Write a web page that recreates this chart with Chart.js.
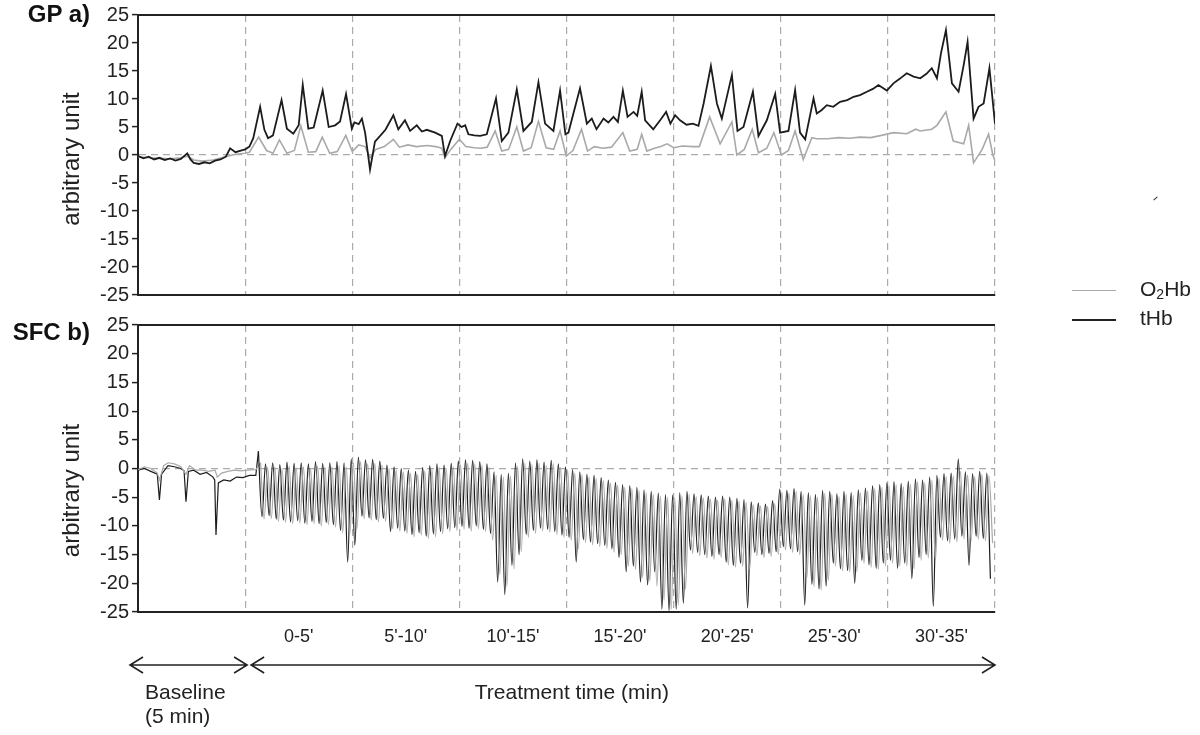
<!DOCTYPE html>
<html>
<head>
<meta charset="utf-8">
<script src="https://cdn.jsdelivr.net/npm/chart.js@4.4.0/dist/chart.umd.min.js"></script>
<style>
  html, body { margin: 0; padding: 0; background: #fff; }
  body { width: 1200px; height: 735px; position: relative; overflow: hidden; font-family: "Liberation Sans", Arial, sans-serif; color: #222; }
  canvas { position: absolute; left: 0; }
  #c1 { top: 0; }
  #c2 { top: 310px; }
  .plab { position: absolute; right: 1110px; font-weight: bold; font-size: 24px; color: #111; white-space: nowrap; }
  .legline { position: absolute; left: 1072px; width: 44px; height: 0; }
  .legtxt { position: absolute; left: 1140px; font-size: 21px; color: #222; white-space: nowrap; line-height: 21px; }
  .legtxt sub { font-size: 14px; vertical-align: -3px; line-height: 0; }
  .speck { position: absolute; left: 1153px; top: 198px; width: 5px; height: 0; border-top: 1.5px solid #333; transform: rotate(-40deg); }
</style>
</head>
<body>
<canvas id="c1" width="1200" height="310"></canvas>
<canvas id="c2" width="1200" height="425"></canvas>
<div class="plab" style="top:0px;">GP a)</div>
<div class="plab" style="top:318px;">SFC b)</div>
<div class="legline" style="top:290px; border-top:1.5px solid #aaa;"></div>
<div class="legtxt" style="top:278px;">O<sub>2</sub>Hb</div>
<div class="legline" style="top:319px; border-top:2px solid #222;"></div>
<div class="legtxt" style="top:307px;">tHb</div>
<div class="speck"></div>
<script>
// ---------- labels ----------
const periodLabels = ["0-5'", "5'-10'", "10'-15'", "15'-20'", "20'-25'", "25'-30'", "30'-35'"];
const seriesNames = ["tHb", "O\u2082Hb"];

// ---------- panel a) GP : time (min, 0-5 baseline, 5-40 treatment) and values ----------
const gpTHbTime = [0,0.25,0.5,0.75,1.0,1.25,1.5,1.75,2.0,2.3,2.45,2.6,2.85,3.1,3.35,3.6,3.85,4.1,4.3,4.55,4.8,5.0,
  5.2,5.38,5.7,5.9,6.07,6.3,6.7,6.95,7.25,7.5,7.69,7.95,8.2,8.62,8.9,9.2,9.43,9.71,9.98,10.1,10.3,10.45,10.6,10.83,11.06,11.3,11.55,11.92,12.15,12.46,12.7,13.01,13.25,13.48,13.87,14.18,14.33,14.57,14.91,15.1,15.27,15.42,15.7,15.97,16.28,16.71,16.98,17.29,17.68,17.99,18.38,18.69,19.0,19.39,19.7,19.95,20.09,20.63,20.95,21.18,21.4,21.73,21.95,22.19,22.4,22.63,22.85,23.13,23.3,23.51,23.67,24.05,24.37,24.65,24.85,25.07,25.3,25.6,25.9,26.16,26.4,26.74,27.02,27.25,27.72,27.98,28.26,28.7,28.96,29.35,29.74,29.97,30.36,30.67,30.9,31.14,31.53,31.68,31.9,32.15,32.45,32.77,33.1,33.4,33.7,34.02,34.3,34.56,34.95,35.26,35.55,35.88,36.2,36.51,36.8,37.05,37.29,37.48,37.71,37.99,38.3,38.54,38.72,39.0,39.23,39.47,39.74,40.0];
const gpTHb = [-0.2,-0.6,-0.3,-0.8,-0.5,-0.9,-0.6,-1.0,-0.7,0.3,-0.8,-1.4,-1.6,-1.3,-1.5,-1.0,-0.8,-0.3,1.2,0.5,0.8,1.0,
  1.5,3.0,8.6,4.5,3.0,3.5,9.8,4.7,3.8,5.3,12.5,4.7,4.9,11.5,5.0,5.3,6.0,10.9,4.7,5.8,5.5,6.5,4.0,-2.6,2.4,3.4,4.5,7.1,4.6,6.2,4.3,5.3,4.2,4.5,4.0,3.4,-0.2,2.5,5.6,5.0,5.3,3.7,3.5,3.4,3.7,10.1,2.5,4.0,11.7,4.3,5.9,13.0,5.6,4.3,11.5,3.7,4.0,11.9,5.6,6.5,4.6,6.5,5.8,6.8,5.9,11.5,6.8,7.7,7.0,11.3,6.2,4.6,6.2,7.7,5.6,7.1,6.2,5.4,5.6,5.2,9.2,15.9,9.2,6.5,14.3,4.3,5.0,11.3,3.4,6.2,10.9,4.0,4.3,11.6,4.0,2.8,10.1,7.4,8.0,8.9,8.6,9.5,9.8,10.4,10.7,11.3,11.8,12.5,11.5,12.8,13.6,14.6,14.0,13.7,14.5,15.5,13.7,18.2,22.3,12.8,11.3,16.1,20.2,6.5,8.6,9.2,15.5,5.6];

const gpO2Time = [0,0.5,1.0,1.5,2.0,2.3,2.6,3.0,3.5,4.0,4.5,5.0,
  5.2,5.63,6.0,6.3,6.6,6.95,7.3,7.6,7.95,8.3,8.6,8.95,9.3,9.7,10.0,10.3,10.6,10.83,11.1,11.5,11.92,12.2,12.6,13.0,13.5,13.9,14.18,14.33,14.6,15.0,15.3,15.7,16.0,16.3,16.67,16.98,17.3,17.68,17.99,18.35,18.69,19.05,19.4,19.7,19.99,20.3,20.7,20.98,21.3,21.7,22.1,22.63,22.95,23.3,23.51,23.75,24.1,24.4,24.7,25.0,25.4,25.9,26.2,26.68,27.17,27.72,27.95,28.3,28.67,28.96,29.35,29.68,30.03,30.36,30.67,31.05,31.45,31.68,32.2,32.7,33.2,33.7,34.2,34.7,35.26,35.88,36.3,36.51,37.05,37.29,37.71,38.05,38.54,38.77,39.0,39.4,39.7,39.9,40.0];
const gpO2Hb = [-0.3,-0.5,-0.6,-0.7,-0.5,-0.2,-0.9,-1.1,-0.9,-0.4,0.1,0.3,
  0.5,3.2,0.8,0.3,2.7,0.3,0.8,5.2,0.5,0.6,3.2,0.3,0.6,3.5,0.6,1.8,1.5,-0.5,1.0,1.5,2.8,1.4,1.8,1.5,1.7,1.5,1.2,-0.5,1.0,2.8,1.5,1.3,1.2,1.4,4.3,0.7,1.0,5.0,0.7,1.3,6.0,1.3,1.0,4.3,-0.2,0.8,4.6,0.7,1.5,1.2,1.4,4.0,0.7,1.0,3.7,0.7,1.2,1.5,2.0,1.3,1.6,1.5,1.5,6.8,2.0,5.9,0.0,1.0,4.6,0.4,1.2,4.0,0.0,0.8,4.3,-0.8,3.1,2.9,2.9,3.1,3.0,3.2,3.1,3.5,4.0,3.8,4.6,4.3,4.6,5.3,7.7,2.5,2.0,5.3,-1.4,1.0,3.7,0.0,-1.0];

// ---------- panel b) SFC : baseline samples (up to the first treatment pulse) ----------
const sfcBaseTHbTime = [0,0.3,0.6,0.9,1.0,1.1,1.4,1.7,2.0,2.15,2.24,2.35,2.6,2.9,3.2,3.5,3.58,3.64,3.75,4.0,4.3,4.6,4.9,5.2,5.5,5.62];
const sfcBaseTHb = [-0.3,0.0,-0.5,-1.0,-5.5,-1.0,0.5,0.3,0.0,-0.4,-5.8,-0.5,-0.3,-1.0,-0.7,-1.5,-2.0,-11.6,-2.5,-2.0,-2.2,-1.5,-1.6,-1.2,-1.2,3.0];
const sfcBaseO2Time = [0,0.3,0.6,0.9,1.0,1.2,1.4,1.7,2.0,2.24,2.4,2.7,3.0,3.3,3.6,3.7,3.9,4.2,4.5,4.8,5.1,5.5,5.72];
const sfcBaseO2Hb = [-0.2,0.3,0.0,-0.8,-2.0,0.5,1.0,0.8,0.3,-1.0,0.5,-0.3,-0.3,-0.5,-0.3,-1.5,-0.8,-0.5,-0.3,-0.4,-0.3,-0.2,1.0];

// ---------- panel b) SFC : treatment pulses, one peak and one trough per pulse ----------
const sfcCycleStart = 5.62;   // min, first treatment pulse
const sfcCycleLen = 1 / 3;    // min per pulse (about 3 pulses per minute)
const sfcO2Lag = 0.1;         // min, O2Hb stroke drawn just after tHb stroke
const sfcTHbTop = [3.0,
  0.8,1.0,0.7,1.1,0.9,1.0,0.8,1.2,0.9,1.0,
  1.2,1.0,1.7,2.0,1.5,1.6,1.3,
  0.6,0.3,0.0,-0.3,-0.5,
  0.2,0.5,0.8,0.6,0.9,1.3,1.5,1.4,1.2,0.8,
  -0.6,-1.0,-0.8,
  1.0,1.7,1.3,1.5,1.1,1.4,0.8,
  0.3,-0.2,-0.6,-1.0,-1.2,
  -1.6,-2.0,-2.4,-2.8,
  -3.0,-3.3,-3.7,-4.0,-4.3,-4.5,-4.6,
  -4.2,-4.0,-4.4,-4.6,-4.8,-5.0,
  -4.8,-5.0,-5.2,-5.4,
  -5.8,-6.0,-6.2,-5.6,
  -3.6,-3.8,-3.5,-4.0,
  -4.2,-4.5,-3.8,-4.0,-4.4,-4.0,-4.2,-3.7,-3.4,
  -3.0,-2.8,-2.5,-2.3,
  -2.6,-2.2,-1.8,-2.0,-1.5,
  -1.2,-0.9,-0.8,
  1.7,
  -0.6,-0.9,-0.5,-0.8];
const sfcTHbBottom = [-8.4,-8.2,
  -8.8,-9.0,-9.3,-9.1,-9.5,-9.2,-9.6,-9.4,-9.8,
  -10.8,-16.3,-13.4,
  -8.3,-8.6,-8.9,-8.7,
  -11.0,
  -10.4,-10.9,-11.5,-11.2,
  -11.8,-11.4,-11.0,
  -10.5,-10.3,-10.1,-10.4,-10.0,-10.6,-11.3,
  -19.8,-22.0,-16.9,-15.0,
  -11.5,-10.8,-10.4,-10.6,-11.0,-11.6,-12.0,
  -16.3,
  -12.4,-12.8,-13.1,-13.4,
  -14.0,-15.5,-18.0,-17.0,-19.8,-20.3,-18.0,
  -24.5,-24.8,-24.5,-23.5,
  -14.2,-14.6,-15.0,-15.3,-15.0,
  -16.3,-16.9,-16.5,
  -24.3,
  -14.6,-15.0,-14.8,-14.5,
  -13.6,-14.0,-14.5,
  -23.8,
  -20.2,-21.0,-20.5,
  -16.5,-17.5,-17.8,
  -20.0,
  -16.0,-16.8,-17.4,-16.5,
  -16.0,-17.4,-16.5,-19.2,-15.5,-15.0,-24.0,
  -12.0,-12.6,-12.3,-11.8,
  -16.9,
  -11.8,-12.2,
  -19.2];
const sfcO2Top = [1.0,
  0.2,0.3,0.0,0.4,0.1,0.3,0.0,0.4,0.2,0.3,
  0.5,0.3,1.0,1.2,0.8,0.9,0.6,
  0.0,-0.3,-0.6,-0.8,-1.0,
  -0.4,-0.1,0.2,0.0,0.3,0.7,0.9,0.8,0.6,0.2,
  -1.2,-1.5,-1.3,
  0.4,1.0,0.7,0.9,0.5,0.8,0.2,
  -0.3,-0.8,-1.1,-1.5,-1.7,
  -2.1,-2.5,-2.9,-3.3,
  -3.5,-3.8,-4.2,-4.5,-4.8,-5.0,-5.1,
  -4.7,-4.5,-4.9,-5.1,-5.3,-5.5,
  -5.3,-5.5,-5.7,-5.9,
  -6.3,-6.5,-6.6,-6.1,
  -4.1,-4.3,-4.0,-4.5,
  -4.7,-5.0,-4.3,-4.5,-4.9,-4.5,-4.7,-4.2,-3.9,
  -3.5,-3.3,-3.0,-2.8,
  -3.1,-2.7,-2.3,-2.5,-2.0,
  -1.7,-1.4,-1.3,
  -0.5,
  -1.1,-1.4,-1.0,-1.3];
const sfcO2Bottom = [-8.8,-8.7,
  -9.2,-9.4,-9.6,-9.5,-9.8,-9.6,-10.0,-9.8,-10.2,
  -11.2,-11.5,-10.5,
  -8.8,-9.0,-9.3,-9.2,
  -10.5,
  -10.9,-11.3,-11.9,-11.6,
  -12.2,-11.9,-11.4,
  -11.0,-10.8,-10.6,-10.9,-10.5,-11.0,-12.5,
  -18.5,-20.5,-17.5,-14.5,
  -12.0,-11.3,-10.9,-11.1,-11.5,-12.0,-12.5,
  -14.0,
  -12.9,-13.3,-13.6,-13.9,
  -14.6,-15.0,-17.0,-17.6,-19.0,-19.6,-20.5,
  -23.0,-24.6,-23.8,-21.0,
  -14.8,-15.2,-15.6,-15.8,-15.5,
  -16.8,-17.2,-17.0,
  -17.5,
  -15.2,-15.5,-15.3,-15.0,
  -14.2,-14.6,-15.0,
  -19.0,
  -20.6,-21.2,-19.5,
  -17.0,-17.8,-18.0,
  -18.0,
  -16.5,-17.2,-17.6,-17.0,
  -16.5,-17.0,-17.0,-17.5,-16.0,-15.6,-16.0,
  -12.5,-13.0,-12.8,-12.3,
  -12.6,
  -12.3,-12.6,
  -13.0];

// ---------- build point lists ----------
function pairs(ts, vs) { return ts.map((t, i) => ({ x: t, y: vs[i] })); }
function pulses(tops, bottoms, lag) {
  const pts = [];
  for (let c = 0; c < tops.length; c++) {
    const t0 = sfcCycleStart + c * sfcCycleLen + lag;
    pts.push({ x: t0, y: tops[c] });
    pts.push({ x: t0 + sfcCycleLen / 2, y: bottoms[c] });
  }
  return pts;
}

const FONT = '"Liberation Sans", Arial, Helvetica, sans-serif';
Chart.defaults.font.family = FONT;
Chart.defaults.color = '#222';

const BLACK = '#1c1c1c';
const GREY = '#a9a9a9';

const frameTop = {
  id: 'frameTop',
  afterDatasetsDraw(chart) {
    const { ctx, chartArea: a } = chart;
    ctx.save();
    ctx.strokeStyle = '#222';
    ctx.lineWidth = 2.2;
    ctx.beginPath();
    ctx.moveTo(a.left - 1, a.top);
    ctx.lineTo(a.right, a.top);
    ctx.stroke();
    ctx.restore();
  }
};

function yTitle(shift) {
  return {
    id: 'yTitle',
    afterDraw(chart) {
      const { ctx, chartArea: a } = chart;
      ctx.save();
      ctx.translate(72, (a.top + a.bottom) / 2 + shift);
      ctx.rotate(-Math.PI / 2);
      ctx.font = '24px ' + FONT;
      ctx.fillStyle = '#222';
      ctx.textAlign = 'center';
      ctx.textBaseline = 'middle';
      ctx.fillText('arbitrary unit', 0, 0);
      ctx.restore();
    }
  };
}

const bottomNotes = {
  id: 'bottomNotes',
  afterDraw(chart) {
    const { ctx } = chart;
    const xs = chart.scales.x;
    const y = 355;
    function arrow(x1, x2) {
      ctx.beginPath();
      ctx.moveTo(x1, y); ctx.lineTo(x2, y);
      ctx.moveTo(x1 + 13, y - 8); ctx.lineTo(x1, y); ctx.lineTo(x1 + 13, y + 8);
      ctx.moveTo(x2 - 13, y - 8); ctx.lineTo(x2, y); ctx.lineTo(x2 - 13, y + 8);
      ctx.stroke();
    }
    ctx.save();
    ctx.strokeStyle = '#222';
    ctx.lineWidth = 1.6;
    arrow(xs.getPixelForValue(0) - 8, xs.getPixelForValue(5) + 2);
    arrow(xs.getPixelForValue(5) + 6, xs.getPixelForValue(40));
    ctx.fillStyle = '#222';
    ctx.font = '21px ' + FONT;
    ctx.textBaseline = 'middle';
    ctx.textAlign = 'left';
    ctx.fillText('Baseline', xs.getPixelForValue(0) + 7, 383);
    ctx.fillText('(5 min)', xs.getPixelForValue(0) + 7, 407);
    ctx.textAlign = 'center';
    ctx.fillText('Treatment time (min)', xs.getPixelForValue(20.25), 383);
    ctx.restore();
  }
};

function makeOptions(withLabels, xHeight) {
  return {
    responsive: false,
    animation: false,
    devicePixelRatio: 1,
    layout: { padding: withLabels ? { left: 0, right: 205, top: 14, bottom: 0 } : { left: 0, right: 205, top: 12, bottom: 13 } },
    plugins: { legend: { display: false }, tooltip: { enabled: false } },
    elements: { point: { radius: 0 }, line: { tension: 0 } },
    scales: {
      x: {
        type: 'linear', min: 0, max: 40,
        ticks: {
          display: withLabels, stepSize: 2.5, autoSkip: false, maxRotation: 0, minRotation: 0,
          padding: 14, color: '#222', font: { size: 18, family: FONT },
          callback: (v) => {
            const k = (v - 7.5) / 5;
            return (Number.isInteger(k) && k >= 0 && k < periodLabels.length) ? periodLabels[k] : '';
          }
        },
        grid: {
          drawTicks: false, lineWidth: 1.2,
          color: (c) => (c.tick && c.tick.value > 0 && c.tick.value % 5 === 0) ? '#ababab' : 'rgba(0,0,0,0)'
        },
        border: { display: true, color: '#222', width: 2, dash: [7, 5] },
        afterFit: (s) => { s.height = xHeight; }
      },
      y: {
        min: -25, max: 25,
        ticks: { stepSize: 5, color: '#222', font: { size: 20, family: FONT }, padding: 3 },
        grid: {
          drawTicks: true, tickLength: 6, tickColor: '#222', lineWidth: 1.2, tickWidth: 1.5,
          color: (c) => (c.tick && c.tick.value === 0) ? '#ababab' : 'rgba(0,0,0,0)'
        },
        border: { display: true, color: '#222', width: 2, dash: [7, 5] },
        afterFit: (s) => { s.width = 138; }
      }
    }
  };
}

new Chart(document.getElementById('c1'), {
  type: 'line',
  data: {
    datasets: [
      { label: seriesNames[0], data: pairs(gpTHbTime, gpTHb), borderColor: BLACK, borderWidth: 1.8 },
      { label: seriesNames[1], data: pairs(gpO2Time, gpO2Hb), borderColor: GREY, borderWidth: 1.6 }
    ]
  },
  options: makeOptions(false, 0),
  plugins: [frameTop, yTitle(4)]
});

new Chart(document.getElementById('c2'), {
  type: 'line',
  data: {
    datasets: [
      { label: seriesNames[1], data: pulses(sfcO2Top, sfcO2Bottom, sfcO2Lag), borderColor: GREY, borderWidth: 1.2, cubicInterpolationMode: 'monotone' },
      { label: seriesNames[0], data: pulses(sfcTHbTop, sfcTHbBottom, 0), borderColor: BLACK, borderWidth: 1.2, cubicInterpolationMode: 'monotone' },
      { label: seriesNames[1] + ' baseline', data: pairs(sfcBaseO2Time, sfcBaseO2Hb), borderColor: GREY, borderWidth: 1.2 },
      { label: seriesNames[0] + ' baseline', data: pairs(sfcBaseTHbTime, sfcBaseTHb), borderColor: BLACK, borderWidth: 1.2 }
    ]
  },
  options: makeOptions(true, 123),
  plugins: [frameTop, yTitle(22), bottomNotes]
});
</script>
</body>
</html>
